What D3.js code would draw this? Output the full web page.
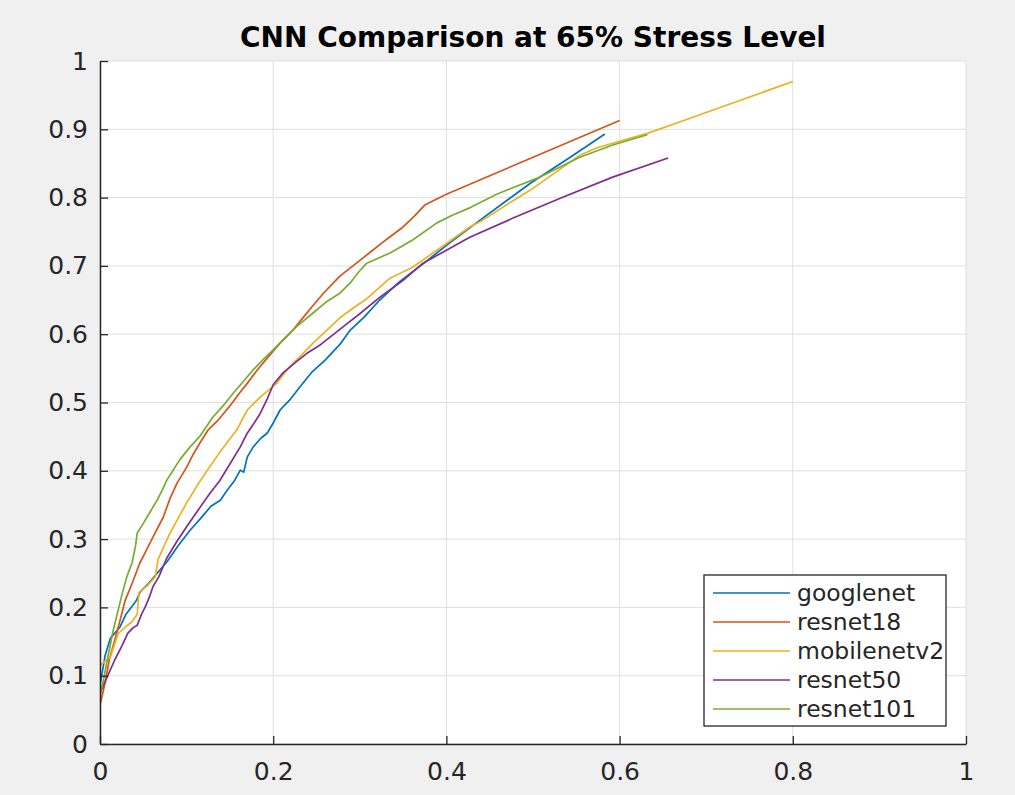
<!DOCTYPE html>
<html>
<head>
<meta charset="utf-8">
<script src="https://cdn.jsdelivr.net/npm/d3@7"></script>
<style>
  body { margin: 0; background: #f0f0f0; }
  svg { display: block; }
  text { font-family: "DejaVu Sans", sans-serif; fill: #262626; }
</style>
</head>
<body>
<svg id="chart" width="1015" height="795"></svg>
<script>

//  values, [x, y]
var series_names = ['googlenet', 'resnet18', 'mobilenetv2', 'resnet50', 'resnet101'];

var series_colors = ['#0072BD', '#D95319', '#EDB120', '#7E2F8E', '#77AC30'];

var googlenet = [
    [0, 0.086], [0.006, 0.13], [0.012, 0.155], [0.023, 0.171], [0.03, 0.19], [0.036, 0.2],
    [0.042, 0.21], [0.046, 0.222], [0.056, 0.235], [0.066, 0.25], [0.078, 0.268], [0.09, 0.29],
    [0.104, 0.313], [0.116, 0.33], [0.128, 0.348], [0.139, 0.357], [0.146, 0.37], [0.155, 0.385],
    [0.162, 0.401], [0.166, 0.398], [0.17, 0.42], [0.177, 0.435], [0.186, 0.448], [0.193, 0.455],
    [0.2, 0.47], [0.208, 0.489], [0.22, 0.505], [0.231, 0.523], [0.245, 0.545], [0.26, 0.562],
    [0.277, 0.585], [0.289, 0.606], [0.305, 0.625], [0.323, 0.65], [0.346, 0.677], [0.373, 0.703],
    [0.4, 0.73], [0.442, 0.77], [0.497, 0.821], [0.543, 0.859], [0.583, 0.893]
];

var resnet18 = [
    [0, 0.057], [0.006, 0.09], [0.011, 0.125], [0.017, 0.152], [0.024, 0.185], [0.029, 0.21],
    [0.037, 0.235], [0.046, 0.265], [0.052, 0.28], [0.062, 0.305], [0.073, 0.332], [0.081, 0.36],
    [0.089, 0.382], [0.1, 0.405], [0.108, 0.425], [0.115, 0.44], [0.125, 0.46], [0.137, 0.475],
    [0.15, 0.495], [0.16, 0.512], [0.17, 0.528], [0.18, 0.545], [0.193, 0.565], [0.208, 0.587],
    [0.222, 0.605], [0.235, 0.625], [0.246, 0.642], [0.258, 0.66], [0.277, 0.685], [0.295, 0.703],
    [0.312, 0.72], [0.33, 0.738], [0.35, 0.757], [0.363, 0.773], [0.375, 0.789], [0.4, 0.805],
    [0.6, 0.913]
];

var mobilenetv2 = [
    [0, 0.115], [0.012, 0.127], [0.021, 0.162], [0.03, 0.172], [0.037, 0.179], [0.043, 0.19],
    [0.045, 0.222], [0.055, 0.232], [0.064, 0.245], [0.067, 0.27], [0.074, 0.29], [0.081, 0.309],
    [0.09, 0.33], [0.1, 0.353], [0.112, 0.378], [0.124, 0.401], [0.14, 0.43], [0.158, 0.46],
    [0.17, 0.489], [0.185, 0.508], [0.204, 0.528], [0.216, 0.548], [0.23, 0.566], [0.246, 0.587],
    [0.262, 0.606], [0.277, 0.624], [0.292, 0.638], [0.308, 0.652], [0.335, 0.682], [0.361, 0.698],
    [0.389, 0.723], [0.427, 0.757], [0.442, 0.767], [0.47, 0.79], [0.497, 0.811], [0.535, 0.845],
    [0.554, 0.862], [0.574, 0.873], [0.604, 0.884], [0.632, 0.894], [0.67, 0.911], [0.8, 0.97]
];

var resnet50 = [
    [0, 0.075], [0.009, 0.1], [0.017, 0.123], [0.025, 0.143], [0.032, 0.162], [0.038, 0.17],
    [0.043, 0.174], [0.048, 0.19], [0.052, 0.2], [0.057, 0.215], [0.061, 0.23], [0.068, 0.245],
    [0.077, 0.272], [0.088, 0.295], [0.1, 0.318], [0.113, 0.342], [0.127, 0.367], [0.138, 0.385],
    [0.15, 0.41], [0.162, 0.435], [0.17, 0.455], [0.178, 0.47], [0.185, 0.484], [0.193, 0.505],
    [0.2, 0.526], [0.211, 0.543], [0.225, 0.558], [0.239, 0.572], [0.255, 0.585], [0.27, 0.6],
    [0.285, 0.615], [0.3, 0.63], [0.323, 0.654], [0.35, 0.679], [0.373, 0.704], [0.4, 0.723],
    [0.427, 0.742], [0.477, 0.77], [0.535, 0.801], [0.592, 0.83], [0.656, 0.858]
];

var resnet101 = [
    [0, 0.07], [0.005, 0.1], [0.009, 0.127], [0.015, 0.165], [0.021, 0.196], [0.026, 0.222],
    [0.031, 0.245], [0.037, 0.265], [0.041, 0.29], [0.043, 0.309], [0.05, 0.323], [0.058, 0.34],
    [0.066, 0.357], [0.072, 0.372], [0.077, 0.386], [0.085, 0.402], [0.092, 0.416], [0.104, 0.435],
    [0.115, 0.45], [0.13, 0.478], [0.142, 0.495], [0.154, 0.514], [0.165, 0.53], [0.177, 0.548],
    [0.19, 0.565], [0.2, 0.577], [0.214, 0.595], [0.227, 0.611], [0.246, 0.631], [0.262, 0.648],
    [0.277, 0.66], [0.289, 0.675], [0.298, 0.69], [0.308, 0.704], [0.335, 0.719], [0.361, 0.738],
    [0.389, 0.763], [0.408, 0.775], [0.427, 0.785], [0.458, 0.805], [0.508, 0.83], [0.554, 0.859],
    [0.592, 0.877], [0.632, 0.892]
];

var x_ticks = [0, 0.2, 0.4, 0.6, 0.8, 1];
var y_ticks = [0, 0.1, 0.2, 0.3, 0.4, 0.5, 0.6, 0.7, 0.8, 0.9, 1];

var title_text = 'CNN Comparison at 65% Stress Level';

var all_series = [googlenet, resnet18, mobilenetv2, resnet50, resnet101];


var margin = { top: 61, right: 49, bottom: 51, left: 100 };
var width = 1015 - margin.left - margin.right;
var height = 795 - margin.top - margin.bottom;

var svg = d3.select('#chart');

var x = d3.scaleLinear().domain([0, 1]).range([0, width]);
var y = d3.scaleLinear().domain([0, 1]).range([height, 0]);

var g = svg.append('g')
    .attr('transform', 'translate(' + margin.left + ',' + margin.top + ')');

//  plot background
g.append('rect')
    .attr('width', width)
    .attr('height', height)
    .attr('fill', '#ffffff');

//  grid
g.append('g')
    .selectAll('line')
    .data(x_ticks)
    .enter()
    .append('line')
    .attr('x1', function(d) { return x(d) }).attr('x2', function(d) { return x(d) })
    .attr('y1', 0).attr('y2', height)
    .attr('stroke', '#dfdfdf')
    .attr('stroke-width', 1);

g.append('g')
    .selectAll('line')
    .data(y_ticks)
    .enter()
    .append('line')
    .attr('y1', function(d) { return y(d) }).attr('y2', function(d) { return y(d) })
    .attr('x1', 0).attr('x2', width)
    .attr('stroke', '#dfdfdf')
    .attr('stroke-width', 1);

g.append('defs').append('clipPath').attr('id', 'plot-clip')
    .append('rect').attr('width', width).attr('height', height);

var line = d3.line()
    .x(function(d) { return x(d[0]) })
    .y(function(d) { return y(d[1]) });

g.append('g')
    .attr('clip-path', 'url(#plot-clip)')
    .selectAll('path')
    .data(all_series)
    .enter()
    .append('path')
    .attr('d', line)
    .attr('fill', 'none')
    .attr('stroke', function(d, i) { return series_colors[i] })
    .attr('stroke-width', 1.7)
    .attr('stroke-linejoin', 'round');

//  axes, ticks point inward like matlab
var x_axis = d3.axisBottom(x)
    .tickValues(x_ticks)
    .tickSizeInner(-8)
    .tickSizeOuter(0)
    .tickPadding(18)
    .tickFormat(d3.format('~g'));

var y_axis = d3.axisLeft(y)
    .tickValues(y_ticks)
    .tickSizeInner(-8)
    .tickSizeOuter(0)
    .tickPadding(12)
    .tickFormat(d3.format('~g'));

var gx = g.append('g')
    .attr('transform', 'translate(0,' + height + ')')
    .call(x_axis);

var gy = g.append('g')
    .call(y_axis);

[gx, gy].forEach(function(a) {
    a.select('.domain').attr('stroke', '#262626').attr('stroke-width', 1.5);
    a.selectAll('.tick line').attr('stroke', '#262626').attr('stroke-width', 1.3);
    a.selectAll('.tick text')
        .attr('fill', '#262626')
        .style('font-size', '25px')
        .style('font-family', '"DejaVu Sans", sans-serif');
});

//  title
svg.append('text')
    .attr('x', margin.left + width / 2)
    .attr('y', 47)
    .attr('text-anchor', 'middle')
    .style('font-size', '28px')
    .style('font-weight', 'bold')
    .style('fill', '#000000')
    .text(title_text);

//  legend
var legend = svg.append('g')
    .attr('transform', 'translate(704,575)');

legend.append('rect')
    .attr('width', 242)
    .attr('height', 151)
    .attr('fill', '#ffffff')
    .attr('stroke', '#262626')
    .attr('stroke-width', 1.3);

var entries = legend.selectAll('.entry')
    .data(series_names)
    .enter()
    .append('g')
    .attr('class', 'entry')
    .attr('transform', function(d, i) { return 'translate(0,' + (18 + i * 29) + ')' });

entries.append('line')
    .attr('x1', 9).attr('x2', 86)
    .attr('stroke', function(d, i) { return series_colors[i] })
    .attr('stroke-width', 1.7);

entries.append('text')
    .attr('x', 93)
    .attr('dy', '0.35em')
    .style('font-size', '23.5px')
    .text(function(d) { return d });

</script>
</body>
</html>
